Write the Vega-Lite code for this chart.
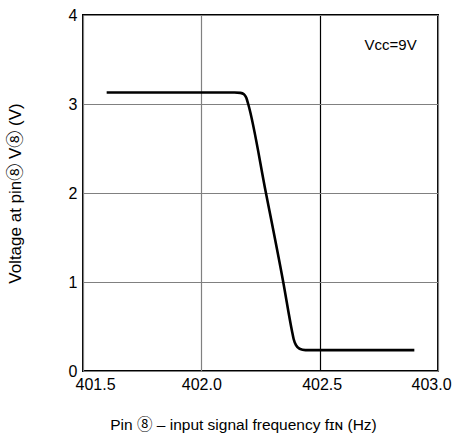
{
  "$schema": "https://vega.github.io/schema/vega-lite/v6.json",
  "autosize": "none",
  "width": 355,
  "height": 356,
  "padding": {"left": 83, "top": 15, "right": 20, "bottom": 71},
  "background": "white",
  "config": {
    "view": {"stroke": "black", "strokeWidth": 2},
    "font": "Liberation Sans",
    "axis": {
      "labelFont": "Liberation Sans",
      "titleFont": "Liberation Sans, 'Noto Sans CJK JP'",
      "labelFontSize": 16,
      "labelColor": "black",
      "titleColor": "black",
      "titleFontWeight": "normal",
      "domain": false,
      "ticks": false,
      "gridColor": "#808080",
      "gridOpacity": 1,
      "gridWidth": 1.2
    }
  },
  "datasets": {
    "curve": [
      {"f": 401.6, "v": 3.13},
      {"f": 402.14, "v": 3.13},
      {"f": 402.165, "v": 3.125},
      {"f": 402.18, "v": 3.11},
      {"f": 402.19, "v": 3.07},
      {"f": 402.198, "v": 3.0},
      {"f": 402.273, "v": 2.0},
      {"f": 402.346, "v": 1.0},
      {"f": 402.383, "v": 0.45},
      {"f": 402.39, "v": 0.36},
      {"f": 402.40, "v": 0.29},
      {"f": 402.415, "v": 0.25},
      {"f": 402.44, "v": 0.235},
      {"f": 402.9, "v": 0.235}
    ],
    "note": [{"f": 402.8, "v": 3.66, "t": "Vᴄᴄ=9V"}]
  },
  "layer": [
    {
      "data": {"name": "curve"},
      "mark": {"type": "line", "color": "black", "strokeWidth": 2.6, "interpolate": "monotone"},
      "encoding": {
        "x": {
          "field": "f", "type": "quantitative",
          "scale": {"domain": [401.5, 403.0], "nice": false, "zero": false},
          "axis": {
            "values": [401.5, 402.0, 402.5, 403.0],
            "format": ".1f",
            "labelFlush": false,
            "labelPadding": 5,
            "labelOffset": {"condition": [{"test": "datum.value === 401.5", "value": 12}, {"test": "datum.value === 403", "value": -7}, {"test": "datum.value === 402.5", "value": 2}], "value": 0},
            "title": "Pin ⑧ – input signal frequency fɪɴ (Hz)",
            "titleFontSize": 15.5,
            "titleX": 160,
            "titlePadding": 25,
            "gridColor": {"condition": {"test": "datum.value === 402.5", "value": "black"}, "value": "#808080"}
          }
        },
        "y": {
          "field": "v", "type": "quantitative",
          "scale": {"domain": [0, 4], "nice": false},
          "axis": {
            "values": [0, 1, 2, 3, 4],
            "format": "d",
            "labelPadding": 6,
            "title": "Voltage at pin⑧ V⑧ (V)",
            "titleFontSize": 17,
            "titlePadding": 44
          }
        }
      }
    },
    {
      "data": {"name": "note"},
      "mark": {"type": "text", "fontSize": 15, "font": "Liberation Sans", "color": "black"},
      "encoding": {
        "x": {"field": "f", "type": "quantitative"},
        "y": {"field": "v", "type": "quantitative"},
        "text": {"field": "t"}
      }
    }
  ]
}
